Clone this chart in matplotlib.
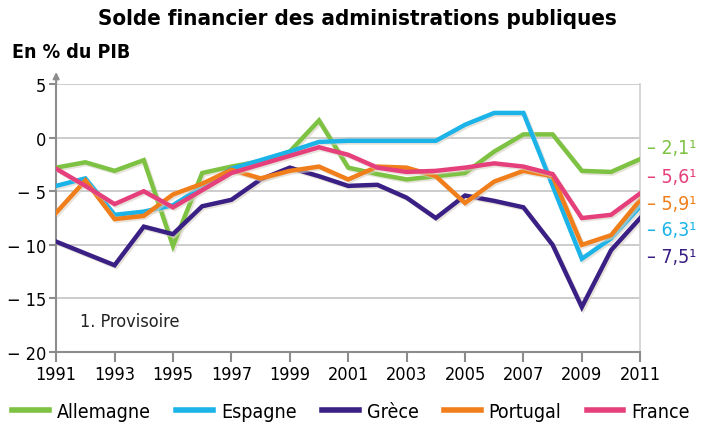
import matplotlib
matplotlib.use("Agg")
import matplotlib.pyplot as plt
import matplotlib.patheffects as pe
from matplotlib.lines import Line2D

plt.rcParams['font.family'] = ['DejaVu Sans']
plt.rcParams['font.stretch'] = 'condensed'

# Data (% du PIB)
years = list(range(1991, 2012))
allemagne = [-2.8, -2.3, -3.1, -2.1, -10.1, -3.3, -2.7, -2.2, -1.3, 1.6, -2.8,
             -3.4, -3.9, -3.6, -3.3, -1.3, 0.3, 0.3, -3.1, -3.2, -2.0]
espagne = [-4.5, -3.8, -7.2, -6.9, -6.3, -4.6, -2.9, -2.1, -1.3, -0.4, -0.3,
           -0.3, -0.3, -0.3, 1.2, 2.3, 2.3, -4.5, -11.3, -9.4, -6.4]
grece = [-9.7, -10.8, -11.9, -8.3, -9.0, -6.4, -5.8, -3.9, -2.8, -3.6, -4.5,
         -4.4, -5.6, -7.5, -5.4, -5.9, -6.5, -10.0, -15.8, -10.5, -7.5]
portugal = [-7.0, -4.0, -7.6, -7.3, -5.3, -4.3, -3.0, -3.8, -3.1, -2.7, -3.9,
            -2.7, -2.8, -3.6, -6.1, -4.1, -3.1, -3.6, -10.0, -9.1, -5.8]
france = [-2.9, -4.5, -6.2, -5.0, -6.5, -4.9, -3.3, -2.5, -1.7, -0.9, -1.6,
          -2.8, -3.2, -3.1, -2.8, -2.4, -2.7, -3.4, -7.5, -7.2, -5.2]

names = ["Allemagne", "Espagne", "Grèce", "Portugal", "France"]
colors = ["#7dc242", "#1cb4e8", "#3a1f84", "#f07e1b", "#e5407b"]
series = [allemagne, espagne, grece, portugal, france]

# provisional 2011 values shown on the right
end_labels = ["2,1", "5,6", "5,9", "6,3", "7,5"]
end_colors = ["#7dc242", "#e5407b", "#f07e1b", "#1cb4e8", "#3a1f84"]

fig = plt.figure(figsize=(7.02, 4.27), dpi=100)
ax = fig.add_axes([0.080, 0.173, 0.832, 0.628])

shadow = [pe.SimpleLineShadow(offset=(1.2, -1.2), shadow_color="#d8d0c2", alpha=0.6),
          pe.Normal()]
for vals, col in zip(series, colors):
    ax.plot(years, vals, color=col, lw=3.2, solid_joinstyle="miter",
            path_effects=shadow, zorder=3)

ax.set_xlim(1991, 2011)
ax.set_ylim(-20, 5)
ax.set_xticks(range(1991, 2012, 2))
ax.set_yticks(range(-20, 6, 5))
ax.set_yticklabels([("− %d" % -v) if v < 0 else str(v) for v in range(-20, 6, 5)])
ax.grid(axis="y", color="#c4c4c4", lw=1.2)
ax.set_axisbelow(True)
ax.spines["top"].set_visible(False)
ax.spines["right"].set_color("#d0d0d0")
ax.spines["right"].set_linewidth(1.2)
for s in ["left", "bottom"]:
    ax.spines[s].set_color("#8c8c8c")
    ax.spines[s].set_linewidth(1.5)
ax.tick_params(axis="x", length=7, width=1.5, color="#8c8c8c", labelsize=13, pad=2)
ax.tick_params(axis="y", length=5, width=1.5, color="#8c8c8c", labelsize=13, pad=2)

# arrow on y axis
ax.annotate("", xy=(0, 1.055), xytext=(0, 0.99), xycoords="axes fraction",
            arrowprops=dict(arrowstyle="-|>", color="#8c8c8c", lw=1.5,
                            mutation_scale=9), annotation_clip=False)

ax.text(1991.8, -17.6, "1. Provisoire", fontsize=13, color="#222222")

# right labels
label_y = [-0.9, -3.6, -6.1, -8.6, -11.1]
for txt, col, yy in zip(end_labels, end_colors, label_y):
    ax.text(1.012, yy, "– " + txt + "¹", transform=ax.get_yaxis_transform(),
            color=col, fontsize=14, va="center", ha="left")

fig.text(0.509, 0.955, "Solde financier des administrations publiques",
         ha="center", va="center", fontsize=16, fontweight="bold")
fig.text(0.017, 0.877, "En % du PIB", ha="left", va="center", fontsize=14,
         fontweight="bold")

handles = [Line2D([], [], color=c, lw=4) for c in colors]
fig.legend(handles, names, loc="center", bbox_to_anchor=(0.5, 0.035), ncol=5,
           frameon=False, fontsize=14, handlelength=1.9, handletextpad=0.4,
           columnspacing=1.3, borderaxespad=0, borderpad=0)

fig.savefig("out.png", dpi=100)
